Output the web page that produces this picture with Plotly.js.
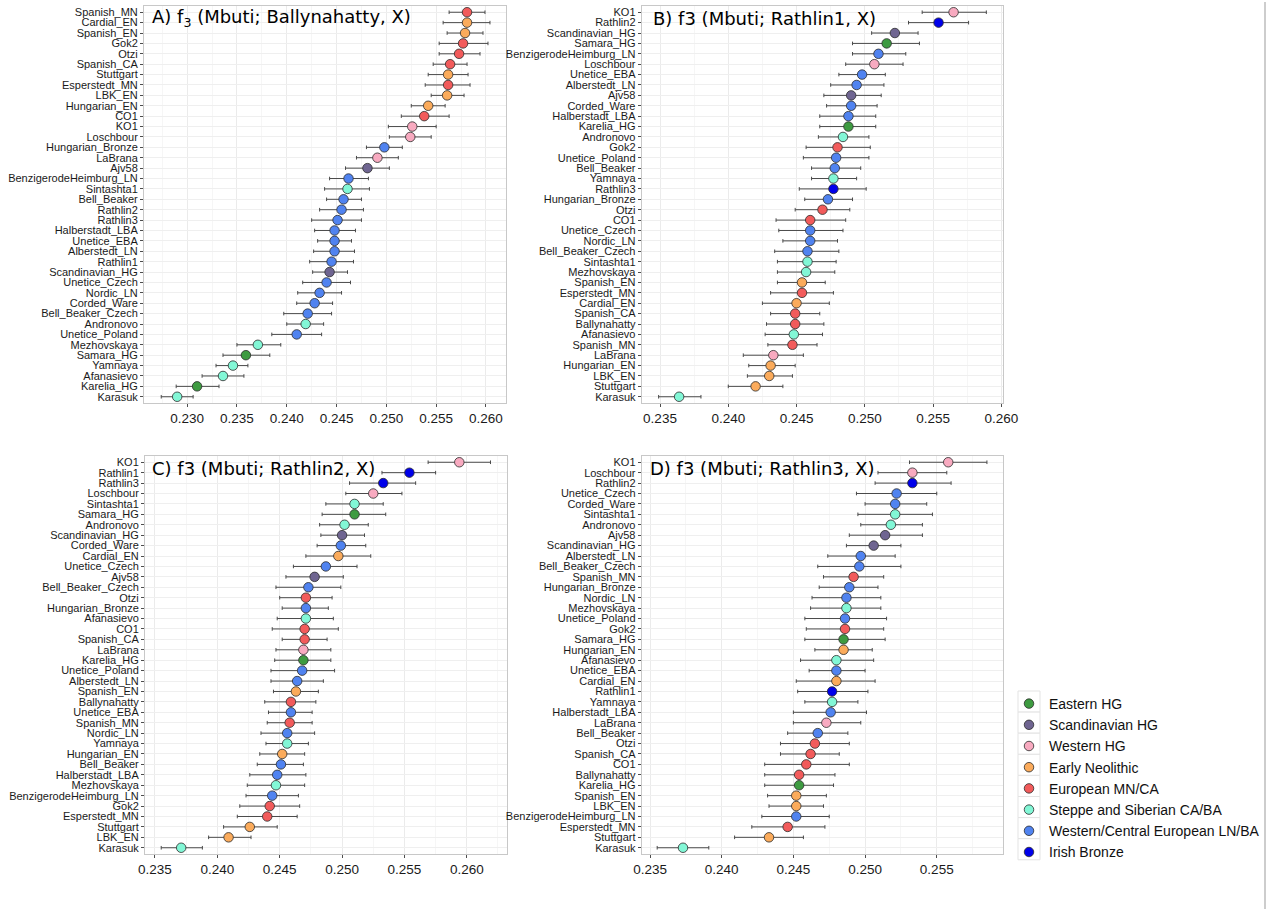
<!DOCTYPE html>
<html><head><meta charset="utf-8">
<script src="https://cdn.plot.ly/plotly-3.0.1.min.js"></script>
<style>html,body{margin:0;padding:0;background:#fff}#chart{width:1270px;height:909px}</style>
</head><body><div id="chart"></div>
<script>
// ---------- Panel A: f3(Mbuti; Ballynahatty, X) ----------
const labelsA = ['Spanish_MN','Cardial_EN','Spanish_EN','Gok2','Otzi','Spanish_CA','Stuttgart','Esperstedt_MN','LBK_EN','Hungarian_EN','CO1','KO1','Loschbour','Hungarian_Bronze','LaBrana','Ajv58','BenzigerodeHeimburg_LN','Sintashta1','Bell_Beaker','Rathlin2','Rathlin3','Halberstadt_LBA','Unetice_EBA','Alberstedt_LN','Rathlin1','Scandinavian_HG','Unetice_Czech','Nordic_LN','Corded_Ware','Bell_Beaker_Czech','Andronovo','Unetice_Poland','Mezhovskaya','Samara_HG','Yamnaya','Afanasievo','Karelia_HG','Karasuk'];
const valuesA = [0.2581,0.2581,0.2579,0.2577,0.2573,0.2564,0.2562,0.2562,0.2561,0.2542,0.2538,0.2526,0.2524,0.2498,0.2491,0.2481,0.2462,0.2461,0.2457,0.2455,0.2451,0.2448,0.2448,0.2448,0.2445,0.2443,0.2440,0.2433,0.2428,0.2421,0.2419,0.2410,0.2371,0.2359,0.2346,0.2336,0.2310,0.2290];
const lowA    = [0.2563,0.2557,0.2561,0.2553,0.2553,0.2547,0.2542,0.2539,0.2545,0.2525,0.2515,0.2502,0.2503,0.2480,0.2470,0.2459,0.2443,0.2438,0.2440,0.2433,0.2425,0.2428,0.2431,0.2427,0.2423,0.2426,0.2416,0.2411,0.2410,0.2397,0.2400,0.2385,0.2350,0.2336,0.2329,0.2315,0.2289,0.2274];
const highA   = [0.2599,0.2604,0.2597,0.2602,0.2594,0.2581,0.2582,0.2584,0.2578,0.2559,0.2563,0.2550,0.2545,0.2516,0.2512,0.2503,0.2482,0.2483,0.2475,0.2477,0.2475,0.2469,0.2465,0.2468,0.2467,0.2461,0.2464,0.2455,0.2446,0.2445,0.2437,0.2435,0.2394,0.2383,0.2361,0.2357,0.2332,0.2306];

// ---------- Panel B: f3(Mbuti; Rathlin1, X) ----------
const labelsB = ['KO1','Rathlin2','Scandinavian_HG','Samara_HG','BenzigerodeHeimburg_LN','Loschbour','Unetice_EBA','Alberstedt_LN','Ajv58','Corded_Ware','Halberstadt_LBA','Karelia_HG','Andronovo','Gok2','Unetice_Poland','Bell_Beaker','Yamnaya','Rathlin3','Hungarian_Bronze','Otzi','CO1','Unetice_Czech','Nordic_LN','Bell_Beaker_Czech','Sintashta1','Mezhovskaya','Spanish_EN','Esperstedt_MN','Cardial_EN','Spanish_CA','Ballynahatty','Afanasievo','Spanish_MN','LaBrana','Hungarian_EN','LBK_EN','Stuttgart','Karasuk'];
const valuesB = [0.2565,0.2554,0.2522,0.2516,0.2510,0.2507,0.2498,0.2494,0.2490,0.2490,0.2488,0.2488,0.2484,0.2480,0.2479,0.2478,0.2477,0.2477,0.2473,0.2469,0.2460,0.2460,0.2460,0.2458,0.2458,0.2457,0.2454,0.2454,0.2450,0.2449,0.2449,0.2448,0.2447,0.2433,0.2431,0.2430,0.2420,0.2364];
const lowB    = [0.2542,0.2532,0.2505,0.2491,0.2491,0.2486,0.2481,0.2475,0.2470,0.2472,0.2467,0.2467,0.2466,0.2457,0.2455,0.2461,0.2461,0.2452,0.2456,0.2449,0.2435,0.2437,0.2440,0.2434,0.2436,0.2436,0.2436,0.2431,0.2425,0.2431,0.2428,0.2427,0.2429,0.2411,0.2415,0.2414,0.2400,0.2349];
const highB   = [0.2589,0.2576,0.2539,0.2540,0.2530,0.2528,0.2515,0.2514,0.2512,0.2509,0.2508,0.2508,0.2503,0.2504,0.2503,0.2497,0.2494,0.2501,0.2491,0.2489,0.2486,0.2484,0.2480,0.2481,0.2479,0.2478,0.2471,0.2477,0.2474,0.2467,0.2470,0.2469,0.2465,0.2455,0.2449,0.2447,0.2440,0.2380];

// ---------- Panel C: f3(Mbuti; Rathlin2, X) ----------
const labelsC = ['KO1','Rathlin1','Rathlin3','Loschbour','Sintashta1','Samara_HG','Andronovo','Scandinavian_HG','Corded_Ware','Cardial_EN','Unetice_Czech','Ajv58','Bell_Beaker_Czech','Otzi','Hungarian_Bronze','Afanasievo','CO1','Spanish_CA','LaBrana','Karelia_HG','Unetice_Poland','Alberstedt_LN','Spanish_EN','Ballynahatty','Unetice_EBA','Spanish_MN','Nordic_LN','Yamnaya','Hungarian_EN','Bell_Beaker','Halberstadt_LBA','Mezhovskaya','BenzigerodeHeimburg_LN','Gok2','Esperstedt_MN','Stuttgart','LBK_EN','Karasuk'];
const valuesC = [0.2594,0.2554,0.2533,0.2525,0.2510,0.2510,0.2502,0.2500,0.2499,0.2497,0.2487,0.2478,0.2473,0.2471,0.2471,0.2471,0.2470,0.2470,0.2469,0.2469,0.2468,0.2464,0.2463,0.2459,0.2459,0.2458,0.2456,0.2456,0.2452,0.2451,0.2448,0.2447,0.2444,0.2442,0.2440,0.2426,0.2409,0.2371];
const lowC    = [0.2569,0.2532,0.2506,0.2503,0.2487,0.2484,0.2482,0.2483,0.2480,0.2471,0.2461,0.2455,0.2447,0.2450,0.2452,0.2448,0.2444,0.2452,0.2447,0.2446,0.2443,0.2443,0.2445,0.2438,0.2441,0.2440,0.2435,0.2439,0.2434,0.2432,0.2426,0.2424,0.2423,0.2418,0.2416,0.2405,0.2393,0.2355];
const highC   = [0.2619,0.2575,0.2559,0.2548,0.2533,0.2535,0.2521,0.2518,0.2519,0.2523,0.2512,0.2501,0.2499,0.2492,0.2489,0.2493,0.2497,0.2488,0.2491,0.2491,0.2494,0.2485,0.2481,0.2479,0.2476,0.2476,0.2478,0.2473,0.2470,0.2469,0.2471,0.2470,0.2465,0.2466,0.2464,0.2448,0.2427,0.2388];

// ---------- Panel D: f3(Mbuti; Rathlin3, X) ----------
const labelsD = ['KO1','Loschbour','Rathlin2','Unetice_Czech','Corded_Ware','Sintashta1','Andronovo','Ajv58','Scandinavian_HG','Alberstedt_LN','Bell_Beaker_Czech','Spanish_MN','Hungarian_Bronze','Nordic_LN','Mezhovskaya','Unetice_Poland','Gok2','Samara_HG','Hungarian_EN','Afanasievo','Unetice_EBA','Cardial_EN','Rathlin1','Yamnaya','Halberstadt_LBA','LaBrana','Bell_Beaker','Otzi','Spanish_CA','CO1','Ballynahatty','Karelia_HG','Spanish_EN','LBK_EN','BenzigerodeHeimburg_LN','Esperstedt_MN','Stuttgart','Karasuk'];
const valuesD = [0.2558,0.2533,0.2533,0.2522,0.2521,0.2521,0.2518,0.2514,0.2506,0.2497,0.2496,0.2492,0.2489,0.2487,0.2487,0.2486,0.2486,0.2485,0.2485,0.2480,0.2480,0.2480,0.2477,0.2477,0.2476,0.2473,0.2467,0.2465,0.2462,0.2459,0.2454,0.2454,0.2452,0.2452,0.2452,0.2446,0.2433,0.2373];
const lowD    = [0.2531,0.2509,0.2507,0.2494,0.2500,0.2495,0.2497,0.2489,0.2487,0.2474,0.2467,0.2471,0.2468,0.2463,0.2462,0.2458,0.2459,0.2458,0.2465,0.2455,0.2461,0.2452,0.2453,0.2458,0.2450,0.2450,0.2446,0.2441,0.2441,0.2430,0.2430,0.2430,0.2432,0.2433,0.2428,0.2421,0.2409,0.2355];
const highD   = [0.2585,0.2557,0.2560,0.2550,0.2543,0.2547,0.2540,0.2540,0.2525,0.2521,0.2525,0.2513,0.2509,0.2511,0.2511,0.2515,0.2513,0.2514,0.2505,0.2506,0.2500,0.2507,0.2502,0.2495,0.2501,0.2497,0.2488,0.2489,0.2482,0.2489,0.2479,0.2478,0.2473,0.2471,0.2475,0.2472,0.2457,0.2391];

// ---------- Groups ----------
const groupNames = ['Eastern HG','Scandinavian HG','Western HG','Early Neolithic','European MN/CA','Steppe and Siberian CA/BA','Western/Central European LN/BA','Irish Bronze'];
const groupColors = ['#3e9b41','#6f6591','#f8aac0','#fbab5b','#f25b5b','#82f7d6','#5083f0','#0000ea'];
const easternHG = ['Samara_HG','Karelia_HG'];
const scandinavianHG = ['Scandinavian_HG','Ajv58'];
const westernHG = ['KO1','Loschbour','LaBrana'];
const earlyNeolithic = ['Cardial_EN','Spanish_EN','Stuttgart','LBK_EN','Hungarian_EN'];
const europeanMNCA = ['Spanish_MN','Gok2','Otzi','Spanish_CA','Esperstedt_MN','CO1','Ballynahatty'];
const steppeSiberian = ['Sintashta1','Andronovo','Mezhovskaya','Yamnaya','Afanasievo','Karasuk'];
const westCentralLNBA = ['Hungarian_Bronze','BenzigerodeHeimburg_LN','Bell_Beaker','Halberstadt_LBA','Unetice_EBA','Alberstedt_LN','Unetice_Czech','Nordic_LN','Corded_Ware','Bell_Beaker_Czech','Unetice_Poland'];
const irishBronze = ['Rathlin1','Rathlin2','Rathlin3'];
// In panel A the Rathlin samples are coloured as Western/Central European LN/BA
const panelAIrishAs = 'Western/Central European LN/BA';

const members = [easternHG, scandinavianHG, westernHG, earlyNeolithic, europeanMNCA, steppeSiberian, westCentralLNBA, irishBronze];
function groupOf(name, panelKey) {
  for (let g = 0; g < members.length; g++) {
    if (members[g].includes(name)) {
      if (panelKey === 'A' && groupNames[g] === 'Irish Bronze') return groupNames.indexOf(panelAIrishAs);
      return g;
    }
  }
  return 6;
}

const panels = [
  {key:'A', labels:labelsA, values:valuesA, low:lowA, high:highA, xa:'x', ya:'y',
   xdom:[144/1270,506/1270], ydom:[1-403/909,1-6/909], range:[0.22567,0.26201],
   title:'A) f<sub>3</sub> (Mbuti; Ballynahatty, X)', tx:150/1270, ty:1-18/909},
  {key:'B', labels:labelsB, values:valuesB, low:lowB, high:highB, xa:'x2', ya:'y2',
   xdom:[641.7/1270,1003/1270], ydom:[1-403/909,1-6/909], range:[0.23366,0.26012],
   title:'B) f3 (Mbuti; Rathlin1, X)', tx:651/1270, ty:1-18/909},
  {key:'C', labels:labelsC, values:valuesC, low:lowC, high:highC, xa:'x3', ya:'y3',
   xdom:[145/1270,506.7/1270], ydom:[1-854/909,1-456/909], range:[0.2342,0.2632],
   title:'C) f3 (Mbuti; Rathlin2, X)', tx:150/1270, ty:1-468/909},
  {key:'D', labels:labelsD, values:valuesD, low:lowD, high:highD, xa:'x4', ya:'y4',
   xdom:[641.7/1270,1002.7/1270], ydom:[1-854/909,1-456/909], range:[0.23442,0.2596],
   title:'D) f3 (Mbuti; Rathlin3, X)', tx:648/1270, ty:1-468/909}
];

const tickFont = {family:'Liberation Sans, Arial, sans-serif', size:13.5, color:'#1a1a1a'};
const catFont = {family:'Liberation Sans, Arial, sans-serif', size:11, color:'#1a1a1a'};
const traces = [];
const legendTop = 691;   // px from top of figure
const legendStep = 21.1; // px per legend entry (Plotly entry height at 14px)
const layout = {
  width:1270, height:909, margin:{l:0,r:0,t:0,b:0},
  paper_bgcolor:'#ffffff', plot_bgcolor:'#ffffff',
  showlegend:true,
  legend:{x:1009/1270, y:1-(legendTop-3)/909, xanchor:'left', yanchor:'top',
          font:{family:'Liberation Sans, Arial, sans-serif', size:14, color:'#111'},
          bgcolor:'rgba(0,0,0,0)', borderwidth:0, tracegroupgap:0},
  annotations:[], shapes:[
    {type:'line', xref:'paper', yref:'paper', x0:1265/1270, x1:1265/1270, y0:0, y1:1-2/909,
     line:{color:'#bdbdbd', width:1.5}}
  ]
};
// light key boxes behind the legend symbols (ggplot style)
groupNames.forEach((n, i) => {
  layout.shapes.push({type:'rect', xref:'paper', yref:'paper', layer:'below',
    x0:1018/1270, x1:1040/1270,
    y0:1-(legendTop + legendStep*(i+1))/909, y1:1-(legendTop + legendStep*i)/909,
    line:{color:'#e3e3e3', width:1}, fillcolor:'#ffffff'});
});

panels.forEach((p, pi) => {
  const sfx = pi === 0 ? '' : String(pi + 1);
  // error bars (drawn underneath the points)
  traces.push({
    type:'scatter', mode:'markers', x:p.values, y:p.labels, xaxis:p.xa, yaxis:p.ya,
    marker:{size:1, color:'rgba(0,0,0,0)'}, showlegend:false, hoverinfo:'skip',
    error_x:{type:'data', symmetric:false,
      array:p.values.map((v,i)=>p.high[i]-v),
      arrayminus:p.values.map((v,i)=>v-p.low[i]),
      color:'#4a4a4a', thickness:1, width:1.8}
  });
  for (let g = 0; g < groupNames.length; g++) {
    const idx = p.labels.map((l,i)=>i).filter(i=>groupOf(p.labels[i], p.key) === g);
    traces.push({
      type:'scatter', mode:'markers', name:groupNames[g],
      x:idx.map(i=>p.values[i]), y:idx.map(i=>p.labels[i]),
      xaxis:p.xa, yaxis:p.ya,
      marker:{size:9.5, color:groupColors[g], line:{color:'#2b2b2b', width:0.8}},
      showlegend: p.key === 'D', hoverinfo:'x+y'
    });
  }
  layout['xaxis'+sfx] = {
    domain:p.xdom, anchor:p.ya, range:p.range, tickformat:'.3f', dtick:0.005, tick0:0.23,
    showgrid:true, gridcolor:'#ebebeb', gridwidth:1, zeroline:false,
    showline:true, mirror:true, linecolor:'#c8c8c8', linewidth:1,
    ticks:'outside', ticklen:3, tickcolor:'#4d4d4d', tickfont:tickFont,
    minor:{dtick:0.0025, tick0:0.2275, showgrid:true, gridcolor:'#f6f6f6', gridwidth:1},
    automargin:false, fixedrange:true
  };
  layout['yaxis'+sfx] = {
    domain:p.ydom, anchor:p.xa, type:'category',
    categoryorder:'array', categoryarray:p.labels,
    tickmode:'array', tickvals:p.labels, ticktext:p.labels,
    range:[p.labels.length - 0.4, -0.6],
    showgrid:true, gridcolor:'#efefef', gridwidth:1, zeroline:false,
    showline:true, mirror:true, linecolor:'#c8c8c8', linewidth:1,
    ticks:'outside', ticklen:3, tickcolor:'#4d4d4d', tickfont:catFont,
    automargin:false, fixedrange:true
  };
  layout.annotations.push({
    xref:'paper', yref:'paper', x:p.tx, y:p.ty, xanchor:'left', yanchor:'middle',
    text:p.title, showarrow:false,
    font:{family:'DejaVu Sans, sans-serif', size:18, color:'#000'}
  });
});

Plotly.newPlot('chart', traces, layout, {displayModeBar:false, staticPlot:true});
</script>
</body></html>
